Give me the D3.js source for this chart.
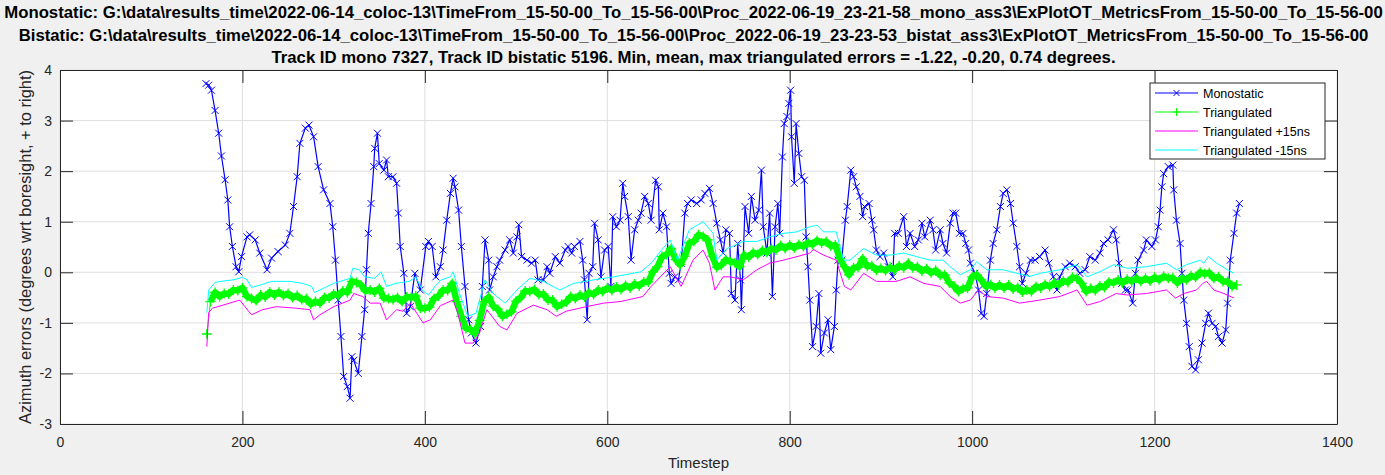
<!DOCTYPE html>
<html><head><meta charset="utf-8">
<script src="https://cdn.jsdelivr.net/npm/d3@7"></script>
<style>
body{margin:0;background:#f0f0f0;}
svg{display:block;font-family:"Liberation Sans",Arial,Helvetica,sans-serif;}
</style>
</head><body>
<svg id="chart" width="1385" height="475"></svg>
<script>
// ---------------- DATA ----------------
const titleLines = [
  "Monostatic: G:\\data\\results_time\\2022-06-14_coloc-13\\TimeFrom_15-50-00_To_15-56-00\\Proc_2022-06-19_23-21-58_mono_ass3\\ExPlotOT_MetricsFrom_15-50-00_To_15-56-00",
  "Bistatic: G:\\data\\results_time\\2022-06-14_coloc-13\\TimeFrom_15-50-00_To_15-56-00\\Proc_2022-06-19_23-23-53_bistat_ass3\\ExPlotOT_MetricsFrom_15-50-00_To_15-56-00",
  "Track ID mono 7327, Track ID bistatic 5196. Min, mean, max triangulated errors = -1.22, -0.20, 0.74 degrees."
];
const xLabel = "Timestep";
const yLabel = "Azimuth errors (degrees wrt boresight, + to right)";
const xTicks = [0, 200, 400, 600, 800, 1000, 1200, 1400];
const yTicks = [-3, -2, -1, 0, 1, 2, 3, 4];
const legendNames = ["Monostatic", "Triangulated", "Triangulated +15ns", "Triangulated -15ns"];

// Monostatic: [timestep, error]
const monoPts = [
[160,3.73],[163,3.70],[166,3.60],[170,3.20],[174,2.75],[177,2.30],[181,1.83],[184,1.43],[186,0.90],[189,0.51],
[193,0.11],[196,0.01],[199,0.31],[205,0.70],[208,0.74],[214,0.64],[219,0.38],[227,0.05],[232,0.28],[239,0.41],
[247,0.54],[252,0.77],[256,1.30],[260,1.89],[263,2.55],[269,2.85],[273,2.91],[278,2.68],[283,2.09],[289,1.63],
[296,1.36],[299,0.90],[302,0.24],[305,-0.55],[308,-1.27],[311,-2.06],[315,-2.26],[318,-2.49],[320,-1.67],[322,-1.74],
[327,-2.00],[331,-1.27],[334,-0.74],[336,0.05],[338,0.77],[341,1.36],[344,2.09],[345,2.45],[348,2.75],[350,2.15],
[355,2.02],[358,2.22],[360,1.89],[365,1.89],[369,1.76],[371,1.17],[373,0.51],[377,-0.02],[380,-0.81],[384,-0.68],
[389,-0.02],[395,-0.35],[401,0.51],[404,0.61],[408,0.51],[412,-0.09],[417,0.11],[420,0.44],[424,1.03],[428,1.56],
[431,1.86],[433,1.69],[437,1.23],[440,0.51],[444,-0.28],[448,-0.94],[451,-1.20],[456,-1.40],[461,-1.07],[463,-0.28],
[466,0.64],[470,0.24],[471,-0.35],[475,-0.09],[479,0.11],[482,0.24],[488,0.44],[493,0.64],[497,0.38],[501,0.70],
[503,0.94],[506,0.31],[512,0.24],[517,0.18],[521,0.24],[524,-0.15],[530,-0.15],[534,0.11],[537,-0.02],[543,0.31],
[548,0.18],[554,0.44],[557,0.51],[561,0.38],[564,0.51],[570,0.61],[573,0.24],[575,-0.15],[578,-0.94],[580,-0.02],
[584,0.11],[586,0.97],[590,0.64],[593,-0.09],[597,0.44],[601,0.51],[604,-0.28],[606,1.10],[610,0.90],[614,1.03],
[617,1.76],[619,1.50],[623,1.10],[626,0.24],[630,0.84],[634,1.03],[637,1.17],[641,1.50],[645,1.36],[648,1.03],
[653,1.82],[656,1.69],[657,0.84],[661,1.17],[665,0.90],[668,-0.02],[670,-0.22],[674,-0.09],[678,-0.15],[681,0.18],
[685,1.17],[688,1.36],[692,1.43],[698,1.36],[703,1.43],[707,1.56],[712,1.66],[716,1.36],[720,0.97],[724,0.64],
[727,0.38],[730,0.84],[734,0.77],[736,-0.42],[740,-0.55],[743,0.57],[746,-0.15],[747,-0.74],[751,1.30],[755,0.77],
[758,1.50],[762,1.03],[766,1.23],[769,2.02],[771,0.90],[775,0.38],[778,1.17],[781,-0.48],[784,0.90],[787,1.36],
[789,0.77],[792,2.28],[794,2.94],[797,3.08],[799,3.34],[801,3.60],[802,2.68],[805,1.76],[807,2.94],[810,2.35],
[813,1.89],[816,1.82],[818,0.70],[820,0.11],[822,-0.55],[825,-1.47],[829,-1.07],[832,-0.42],[834,-1.60],[838,-1.20],
[842,-0.94],[845,-1.53],[849,-1.07],[851,-0.35],[853,0.24],[857,0.24],[861,1.03],[863,1.30],[867,2.02],[870,1.89],
[873,1.69],[877,1.50],[880,1.10],[882,1.30],[887,1.36],[890,1.03],[892,0.84],[895,0.44],[899,0.31],[903,0.38],
[908,0.11],[913,-0.09],[915,0.77],[919,0.77],[925,1.10],[928,0.51],[932,0.77],[937,0.51],[941,0.64],[945,0.97],
[948,0.70],[954,1.03],[957,0.84],[960,0.44],[965,0.84],[968,0.57],[972,0.38],[976,0.97],[979,1.17],[982,1.17],
[986,0.77],[990,0.77],[993,0.57],[996,0.44],[998,0.18],[1003,-0.02],[1007,-0.35],[1010,-0.81],[1013,-0.87],[1016,-0.42],
[1020,0.24],[1023,0.57],[1027,0.84],[1031,1.30],[1034,1.56],[1038,1.63],[1042,1.36],[1045,0.97],[1049,0.51],[1052,0.11],
[1055,-0.22],[1059,-0.02],[1064,0.24],[1069,0.24],[1074,0.31],[1080,0.44],[1084,0.18],[1089,-0.09],[1093,-0.35],[1096,-0.09],
[1102,0.11],[1107,0.18],[1113,0.11],[1118,-0.02],[1124,0.05],[1129,0.31],[1135,0.24],[1140,0.38],[1144,0.57],[1149,0.64],
[1155,0.84],[1158,0.64],[1161,0.18],[1164,-0.22],[1168,-0.35],[1171,-0.35],[1176,-0.61],[1179,-0.02],[1182,0.24],[1188,0.44],
[1191,0.64],[1197,0.51],[1201,0.64],[1204,0.90],[1206,1.23],[1208,1.69],[1210,1.95],[1215,2.09],[1220,2.12],[1221,1.63],
[1224,1.03],[1228,0.57],[1230,-0.02],[1232,-0.55],[1235,-1.01],[1238,-1.47],[1241,-1.86],[1245,-1.93],[1248,-1.73],[1252,-1.40],
[1256,-1.01],[1259,-0.81],[1263,-1.01],[1267,-1.07],[1270,-1.27],[1274,-1.40],[1278,-1.14],[1280,-0.61],[1283,0.24],[1287,0.77],
[1290,1.17],[1293,1.36]
];

// Triangulated: timesteps and values
const triFirstT = 161, triFirstV = -1.22;
const triValues = [
-0.58,-0.40,-0.48,-0.42,-0.43,-0.35,-0.36,-0.31,-0.48,-0.52,
-0.56,-0.45,-0.49,-0.39,-0.45,-0.39,-0.46,-0.42,-0.50,-0.46,
-0.54,-0.52,-0.63,-0.58,-0.61,-0.50,-0.51,-0.43,-0.46,-0.37,
-0.40,-0.18,-0.20,-0.25,-0.37,-0.35,-0.39,-0.32,-0.51,-0.52,
-0.54,-0.50,-0.58,-0.49,-0.50,-0.47,-0.71,-0.71,-0.69,-0.52,
-0.47,-0.35,-0.36,-0.22,-0.58,-0.87,-1.11,-1.13,-1.21,-0.95,
-0.58,-0.49,-0.67,-0.73,-0.87,-0.83,-0.78,-0.57,-0.50,-0.37,
-0.38,-0.34,-0.44,-0.43,-0.55,-0.55,-0.68,-0.63,-0.59,-0.48,
-0.52,-0.45,-0.49,-0.40,-0.44,-0.35,-0.38,-0.31,-0.36,-0.29,
-0.34,-0.26,-0.31,-0.23,-0.27,-0.19,-0.19,0.01,0.11,0.31,
0.35,0.47,0.25,0.15,0.32,0.58,0.61,0.74,0.71,0.64,
0.32,0.10,0.14,0.25,0.21,0.19,0.11,0.34,0.30,0.39,
0.35,0.43,0.39,0.47,0.44,0.53,0.47,0.54,0.48,0.55,
0.51,0.59,0.55,0.63,0.58,0.61,0.52,0.54,0.27,0.11,
-0.05,0.09,0.10,0.27,0.12,0.13,0.04,0.08,0.03,0.10,
0.05,0.13,0.09,0.18,0.09,0.11,0.02,0.07,-0.01,0.04,
-0.06,-0.05,-0.21,-0.27,-0.38,-0.32,-0.31,-0.09,-0.05,-0.15,
-0.28,-0.24,-0.31,-0.25,-0.31,-0.25,-0.33,-0.30,-0.39,-0.35,
-0.38,-0.28,-0.31,-0.24,-0.28,-0.21,-0.25,-0.17,-0.20,-0.10,
-0.12,-0.22,-0.38,-0.32,-0.36,-0.27,-0.30,-0.19,-0.21,-0.15,
-0.21,-0.14,-0.18,-0.12,-0.18,-0.12,-0.17,-0.10,-0.15,-0.08,
-0.12,-0.11,-0.21,-0.12,-0.15,-0.07,-0.10,0.00,-0.03,-0.01,
-0.12,-0.09,-0.18,-0.18,-0.28,-0.25
];
const triTimes = [triFirstT].concat(d3.range(165, 1291, 5));

// Triangulated +15ns: [timestep, error]
const plusPts = [
[161,-1.47],[163,-0.80],[167,-0.71],[173,-0.68],[186,-0.61],[197,-0.55],[210,-0.84],[222,-0.74],[237,-0.68],[259,-0.71],
[274,-0.74],[278,-0.94],[285,-0.84],[300,-0.68],[318,-0.55],[322,-0.42],[332,-0.48],[340,-0.61],[351,-0.61],[358,-0.94],
[369,-0.74],[376,-0.77],[384,-0.61],[398,-1.00],[406,-0.94],[417,-0.66],[431,-0.55],[436,-0.80],[444,-1.40],[453,-1.40],
[460,-1.20],[468,-0.74],[482,-1.07],[490,-1.14],[501,-0.81],[519,-0.65],[534,-0.74],[544,-0.87],[555,-0.77],[577,-0.68],
[596,-0.61],[614,-0.58],[639,-0.48],[648,-0.28],[669,0.11],[681,-0.28],[694,0.24],[705,0.44],[712,0.18],[718,-0.35],
[727,-0.09],[735,-0.09],[749,-0.15],[764,0.05],[778,0.18],[793,0.24],[808,0.31],[822,0.38],[826,0.45],[837,0.34],
[851,0.24],[860,-0.28],[867,-0.35],[881,-0.02],[895,-0.18],[917,-0.18],[932,-0.09],[947,-0.22],[965,-0.28],[976,-0.48],
[987,-0.61],[998,-0.55],[1007,-0.35],[1016,-0.48],[1034,-0.51],[1052,-0.61],[1074,-0.55],[1096,-0.48],[1115,-0.35],[1126,-0.65],
[1140,-0.58],[1158,-0.42],[1170,-0.45],[1191,-0.42],[1213,-0.35],[1223,-0.51],[1232,-0.42],[1246,-0.35],[1253,-0.22],[1257,-0.18],
[1265,-0.35],[1276,-0.42],[1287,-0.51]
];

// Triangulated -15ns: [timestep, error]
const minusPts = [
[161,-0.80],[163,-0.35],[170,-0.20],[180,-0.17],[190,-0.15],[200,-0.10],[205,-0.15],[210,-0.30],[220,-0.25],[232,-0.18],
[252,-0.18],[266,-0.22],[276,-0.28],[279,-0.40],[285,-0.35],[300,-0.22],[318,-0.12],[321,0.08],[328,0.05],[334,-0.09],
[345,-0.12],[352,0.01],[358,-0.28],[368,-0.22],[383,-0.18],[390,-0.09],[397,-0.35],[404,-0.45],[411,-0.28],[418,-0.15],
[428,-0.09],[431,0.01],[438,-0.42],[447,-0.87],[456,-0.81],[466,-0.15],[475,-0.42],[488,-0.61],[501,-0.35],[515,-0.12],
[530,-0.18],[548,-0.35],[563,-0.22],[585,-0.15],[607,-0.09],[637,0.01],[648,0.18],[660,0.45],[669,0.64],[677,0.24],
[690,0.84],[705,1.00],[716,0.77],[720,0.24],[731,0.47],[737,0.51],[749,0.61],[764,0.61],[778,0.70],[793,0.77],
[808,0.80],[822,0.90],[830,0.93],[837,0.80],[851,0.80],[859,0.24],[866,0.24],[881,0.47],[895,0.34],[910,0.34],
[925,0.38],[939,0.31],[954,0.24],[968,0.24],[976,0.11],[987,-0.05],[998,0.05],[1005,0.21],[1016,0.05],[1034,0.05],
[1049,-0.02],[1063,-0.08],[1075,-0.02],[1096,0.05],[1115,0.15],[1126,-0.09],[1140,0.01],[1155,0.15],[1170,0.08],[1191,0.11],
[1213,0.18],[1224,0.05],[1235,0.15],[1250,0.24],[1254,0.18],[1259,0.31],[1268,0.18],[1280,0.05],[1287,-0.02]
];

// ---------------- DRAWING ----------------
const W = 1385, H = 475;
const plot = {left: 60, right: 1337, top: 70, bottom: 424};
const svg = d3.select("#chart");

const x = d3.scaleLinear().domain([0, 1400]).range([plot.left, plot.right]);
const y = d3.scaleLinear().domain([-3, 4]).range([plot.bottom, plot.top]);

svg.append("rect").attr("width", W).attr("height", H).attr("fill", "#f0f0f0");
svg.append("rect").attr("x", plot.left).attr("y", plot.top)
  .attr("width", plot.right - plot.left).attr("height", plot.bottom - plot.top).attr("fill", "#ffffff");

// grid
const gridG = svg.append("g");
gridG.selectAll("line.gx").data(xTicks).join("line")
  .attr("x1", d => x(d)).attr("x2", d => x(d)).attr("y1", plot.top).attr("y2", plot.bottom)
  .attr("stroke", "#dfdfdf").attr("stroke-width", 1);
gridG.selectAll("line.gy").data(yTicks).join("line")
  .attr("y1", d => y(d)).attr("y2", d => y(d)).attr("x1", plot.left).attr("x2", plot.right)
  .attr("stroke", "#dfdfdf").attr("stroke-width", 1);

// clip
svg.append("clipPath").attr("id", "clip").append("rect")
  .attr("x", plot.left).attr("y", plot.top).attr("width", plot.right - plot.left).attr("height", plot.bottom - plot.top);
const dataG = svg.append("g").attr("clip-path", "url(#clip)");

const line = d3.line().x(d => x(d[0])).y(d => y(d[1]));

// Monostatic
const monoColor = "#0000ff";
dataG.append("path").datum(monoPts).attr("d", line)
  .attr("fill", "none").attr("stroke", monoColor).attr("stroke-width", 1.2);
const xm = 3.5;
dataG.append("g").selectAll("path").data(monoPts).join("path")
  .attr("d", d => { const cx = x(d[0]), cy = y(d[1]);
    return `M${cx-xm},${cy-xm}L${cx+xm},${cy+xm}M${cx-xm},${cy+xm}L${cx+xm},${cy-xm}`; })
  .attr("stroke", monoColor).attr("stroke-width", 1).attr("fill", "none");

// Triangulated (dense '+' markers form a band)
const triPts = triTimes.map((t, i) => [t, i === 0 ? triFirstV : triValues[i - 1]]).filter(d => d[1] !== undefined);
const triColor = "#00ff00";
dataG.append("path").datum(triPts.slice(1)).attr("d", line)
  .attr("fill", "none").attr("stroke", triColor).attr("stroke-width", 6.5).attr("stroke-linejoin", "round");
dataG.append("path").datum(triPts.slice(0, 2)).attr("d", line)
  .attr("fill", "none").attr("stroke", triColor).attr("stroke-width", 1);
const pm = 5;
dataG.append("g").selectAll("path").data(triPts).join("path")
  .attr("d", d => { const cx = x(d[0]), cy = y(d[1]);
    return `M${cx-pm},${cy}L${cx+pm},${cy}M${cx},${cy-pm}L${cx},${cy+pm}`; })
  .attr("stroke", triColor).attr("stroke-width", 1.3).attr("fill", "none");

// +15ns and -15ns
dataG.append("path").datum(plusPts).attr("d", line)
  .attr("fill", "none").attr("stroke", "#ff00ff").attr("stroke-width", 1);
dataG.append("path").datum(minusPts).attr("d", line)
  .attr("fill", "none").attr("stroke", "#00ffff").attr("stroke-width", 1);

// axes (MATLAB style: box, inward ticks)
const axisColor = "#262626";
const tickLen = 13;
const fontTick = "14px";
const fmt = d => String(d);
const bottomAxis = d3.axisBottom(x).tickValues(xTicks).tickFormat(fmt).tickSizeInner(-tickLen).tickSizeOuter(0).tickPadding(13);
const leftAxis = d3.axisLeft(y).tickValues(yTicks).tickFormat(fmt).tickSizeInner(-tickLen).tickSizeOuter(0).tickPadding(8);
const topAxis = d3.axisTop(x).tickValues(xTicks).tickSizeInner(-tickLen).tickSizeOuter(0).tickFormat("");
const rightAxis = d3.axisRight(y).tickValues(yTicks).tickSizeInner(-tickLen).tickSizeOuter(0).tickFormat("");

function styleAxis(g) {
  g.select(".domain").attr("stroke", axisColor).attr("stroke-width", 1);
  g.selectAll(".tick line").attr("stroke", axisColor).attr("stroke-width", 1);
  g.selectAll(".tick text").attr("fill", "#262626").style("font-size", fontTick)
    .style("font-family", '"Liberation Sans", Arial, sans-serif');
}
svg.append("g").attr("transform", `translate(0,${plot.bottom})`).call(bottomAxis).call(styleAxis);
svg.append("g").attr("transform", `translate(${plot.left},0)`).call(leftAxis).call(styleAxis);
svg.append("g").attr("transform", `translate(0,${plot.top})`).call(topAxis).call(styleAxis);
svg.append("g").attr("transform", `translate(${plot.right},0)`).call(rightAxis).call(styleAxis);

// axis labels
svg.append("text").attr("x", (plot.left + plot.right) / 2).attr("y", 468)
  .attr("text-anchor", "middle").attr("fill", "#262626").style("font-size", "15px").text(xLabel);
const yl = svg.append("text").attr("transform", `translate(31,${(plot.top + plot.bottom) / 2}) rotate(-90)`)
  .attr("text-anchor", "middle").attr("fill", "#262626").style("font-size", "15px").text(yLabel);
const ylw = yl.node().getComputedTextLength();
yl.style("font-size", (15 * 354 / ylw).toFixed(2) + "px");

// title
const titleYs = [18, 41, 63];
const titleG = svg.append("g");
const tts = titleG.selectAll("text").data(titleLines).join("text")
  .attr("x", W / 2 + 1).attr("y", (d, i) => titleYs[i])
  .attr("text-anchor", "middle").attr("font-weight", "bold").attr("fill", "#000")
  .style("font-size", "14px").text(d => d);
const w0 = tts.nodes()[0].getComputedTextLength();
const fs = 14 * 1379 / w0;
tts.style("font-size", fs.toFixed(2) + "px");

// legend
const lg = {x: 1150, y: 83, w: 175, h: 76};
const legG = svg.append("g");
legG.append("rect").attr("x", lg.x).attr("y", lg.y).attr("width", lg.w).attr("height", lg.h)
  .attr("fill", "#ffffff").attr("stroke", axisColor).attr("stroke-width", 1);
const legColors = [monoColor, triColor, "#ff00ff", "#00ffff"];
const legMarkers = ["x", "+", null, null];
const legYs = [93, 112, 131, 150];
legendNames.forEach((name, i) => {
  const ly = legYs[i];
  legG.append("line").attr("x1", lg.x + 5).attr("x2", lg.x + 48).attr("y1", ly).attr("y2", ly)
    .style("stroke", legColors[i]).attr("stroke-width", 1.2);
  const cx = lg.x + 26.5;
  if (legMarkers[i] === "x") {
    legG.append("path").attr("d", `M${cx-3},${ly-3}L${cx+3},${ly+3}M${cx-3},${ly+3}L${cx+3},${ly-3}`)
      .style("stroke", legColors[i]).attr("stroke-width", 1);
  } else if (legMarkers[i] === "+") {
    legG.append("path").attr("d", `M${cx-4},${ly}L${cx+4},${ly}M${cx},${ly-4}L${cx},${ly+4}`)
      .style("stroke", legColors[i]).attr("stroke-width", 1);
  }
  legG.append("text").attr("x", lg.x + 53).attr("y", ly + 4.5).attr("fill", "#000")
    .style("font-size", "12.5px").text(name);
});
</script>
</body></html>
